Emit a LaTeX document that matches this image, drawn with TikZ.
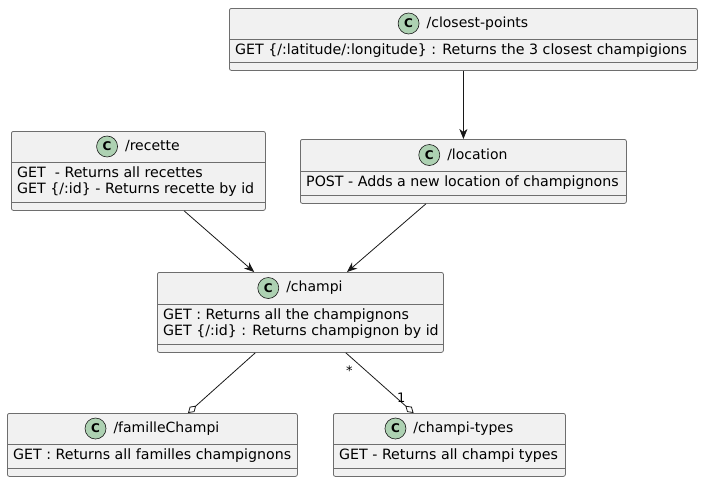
\documentclass[tikz,border=0pt]{standalone}
\usepackage{fontspec}
\setmainfont{DejaVu Sans}
\usetikzlibrary{arrows.meta,positioning,calc}
\definecolor{boxfill}{HTML}{F1F1F1}
\definecolor{boxline}{HTML}{6E6E6E}
\definecolor{spotfill}{HTML}{ADD1B2}
\definecolor{edgeline}{HTML}{181818}
\tikzset{
  classbox/.style={draw=boxline, fill=boxfill, rounded corners=2pt, line width=0.8pt, inner sep=0},
  sepline/.style={draw=boxline, line width=0.8pt},
  spot/.style={circle, draw=edgeline, line width=0.6pt, fill=spotfill, minimum size=21pt, inner sep=0, font=\bfseries\fontsize{12}{12}\selectfont},
  classname/.style={inner sep=0, font=\fontsize{14}{16}\selectfont},
  members/.style={inner sep=0, align=left, font=\fontsize{14.2}{16}\selectfont},
  uses/.style={draw=edgeline, line width=0.8pt, -{Stealth[length=10pt,width=8pt,inset=3pt]}},
  partof/.style={draw=edgeline, line width=0.8pt, -{Diamond[open,length=11pt,width=7pt]}},
  mult/.style={inner sep=0, font=\fontsize{13}{13}\selectfont},
}
% name, left x, top y, width, header height, member height, title, members
\newcommand{\umlclass}[8]{%
  \node[classbox, anchor=north west, minimum width=#4pt, minimum height=#5pt+#6pt+8pt] (#1) at (#2,#3) {};
  \draw[sepline] ([yshift=-#5pt]#1.north west) -- ([yshift=-#5pt]#1.north east);
  \draw[sepline] ([yshift=-#5pt-#6pt]#1.north west) -- ([yshift=-#5pt-#6pt]#1.north east);
  \node[classname] (#1-name) at ([xshift=14pt,yshift=-#5pt/2]#1.north) {#7};
  \node[spot, left=7pt of #1-name] (#1-spot) {C};
  \node[members, anchor=west] (#1-members) at ([xshift=6pt,yshift=-#5pt-#6pt/2]#1.north west) {#8};
}
\begin{document}
\begin{tikzpicture}[x=1pt,y=-1pt]
  \useasboundingbox (0,0) rectangle (703,483);
  % classes
  \umlclass{closest}{229}{8}{468}{31}{23}{/closest-points}{GET \{/:latitude/:longitude\} : Returns the 3 closest champigions}
  \umlclass{recette}{11}{131}{254}{31}{40}{/recette}{GET\ \ - Returns all recettes\\GET \{/:id\} - Returns recette by id}
  \umlclass{location}{300}{139}{326}{32}{24}{/location}{POST - Adds a new location of champignons}
  \umlclass{champi}{157}{272}{286}{32}{40}{/champi}{GET : Returns all the champignons\\GET \{/:id\} : Returns champignon by id}
  \umlclass{famille}{7}{413}{290}{31}{24}{/familleChampi}{GET : Returns all familles champignons}
  \umlclass{types}{333}{413}{232}{31}{24}{/champi-types}{GET - Returns all champi types}
  % links
  \draw[uses] (closest) -- (location);
  \draw[uses] (recette) -- (champi);
  \draw[uses] (location) -- (champi);
  \draw[partof] (champi) -- (famille);
  \draw[partof] (champi) -- node[mult, pos=0.3, left=13pt] (from-mult) {*} node[mult, pos=0.75, anchor=west] (to-mult) {1} (types);
\end{tikzpicture}
\end{document}
